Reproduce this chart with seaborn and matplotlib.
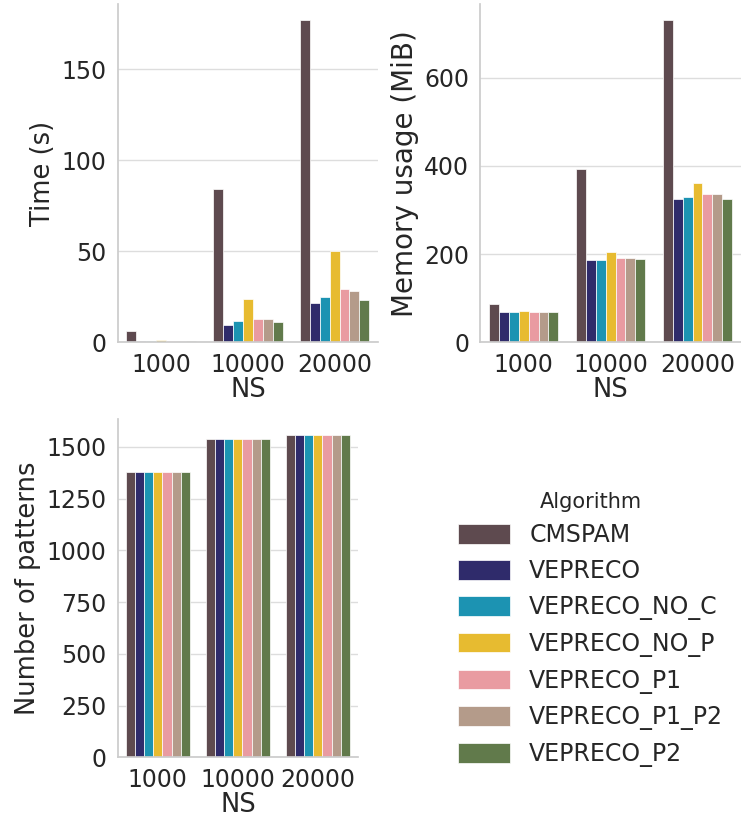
import matplotlib.pyplot as plt
import numpy as np
import pandas as pd
import seaborn as sns

ns_values = ["1000", "10000", "20000"]
algorithms = [
    "CMSPAM",
    "VEPRECO",
    "VEPRECO_NO_C",
    "VEPRECO_NO_P",
    "VEPRECO_P1",
    "VEPRECO_P1_P2",
    "VEPRECO_P2",
]
colors = ["#5e4a4f", "#2f2b6b", "#1c93b2", "#e7bb30", "#e99ba1", "#b49b8a", "#617a4b"]

# one list per algorithm, values for NS = 1000, 10000, 20000
time_s = {
    "CMSPAM": [6.5, 84, 177],
    "VEPRECO": [1.0, 9.5, 21.5],
    "VEPRECO_NO_C": [1.0, 12, 25],
    "VEPRECO_NO_P": [1.2, 24, 50],
    "VEPRECO_P1": [1.0, 13, 29.5],
    "VEPRECO_P1_P2": [1.0, 13, 28.5],
    "VEPRECO_P2": [1.0, 11, 23.5],
}
memory_mib = {
    "CMSPAM": [88, 393, 730],
    "VEPRECO": [69, 186, 325],
    "VEPRECO_NO_C": [69, 186, 329],
    "VEPRECO_NO_P": [72, 204, 362],
    "VEPRECO_P1": [69, 192, 336],
    "VEPRECO_P1_P2": [69, 192, 336],
    "VEPRECO_P2": [69, 188, 325],
}
n_patterns = {
    "CMSPAM": [1380, 1540, 1556],
    "VEPRECO": [1380, 1540, 1556],
    "VEPRECO_NO_C": [1380, 1540, 1556],
    "VEPRECO_NO_P": [1380, 1540, 1556],
    "VEPRECO_P1": [1380, 1540, 1556],
    "VEPRECO_P1_P2": [1380, 1540, 1556],
    "VEPRECO_P2": [1380, 1540, 1556],
}

rows = []
for alg in algorithms:
    for i, ns in enumerate(ns_values):
        rows.append([ns, alg, time_s[alg][i], memory_mib[alg][i], n_patterns[alg][i]])
df = pd.DataFrame(rows, columns=["NS", "Algorithm", "time", "memory", "patterns"])

sns.set_theme(style="whitegrid")
plt.rcParams["font.family"] = ["DejaVu Sans"]
plt.rcParams["grid.color"] = "#dddddd"
plt.rcParams["axes.edgecolor"] = "#cccccc"

fig = plt.figure(figsize=(7.41, 8.25), dpi=100)
ax_time = fig.add_axes([0.159, 0.585, 0.351, 0.41])
ax_mem = fig.add_axes([0.648, 0.585, 0.352, 0.41])
ax_pat = fig.add_axes([0.159, 0.082, 0.324, 0.41])

panels = [
    (ax_time, "time", "Time (s)", 18.5),
    (ax_mem, "memory", "Memory usage (MiB)", 20),
    (ax_pat, "patterns", "Number of patterns", 18.5),
]
for ax, col, label, lsize in panels:
    sns.barplot(
        data=df,
        x="NS",
        y=col,
        hue="Algorithm",
        hue_order=algorithms,
        order=ns_values,
        palette=colors,
        saturation=1,
        edgecolor="white",
        linewidth=0.5,
        ax=ax,
    )
    ax.set_ylabel(label, fontsize=lsize, labelpad=4)
    ax.set_xlabel("NS", fontsize=18.5, labelpad=0)
    ax.tick_params(axis="both", labelsize=17, pad=2)
    ax.grid(axis="x", visible=False)
    ax.legend_.remove()
    sns.despine(ax=ax, top=True, right=True)

ax_time.set_yticks([0, 50, 100, 150])
ax_mem.set_yticks([0, 200, 400, 600])
ax_pat.set_yticks([0, 250, 500, 750, 1000, 1250, 1500])

handles, labels = ax_time.get_legend_handles_labels()
leg = fig.legend(
    handles,
    labels,
    title="Algorithm",
    loc="upper left",
    bbox_to_anchor=(0.59, 0.43),
    frameon=False,
    fontsize=17,
    title_fontsize=15,
    handlelength=2.2,
    handleheight=0.9,
    labelspacing=0.5,
)

fig.savefig("out.png", dpi=100)
